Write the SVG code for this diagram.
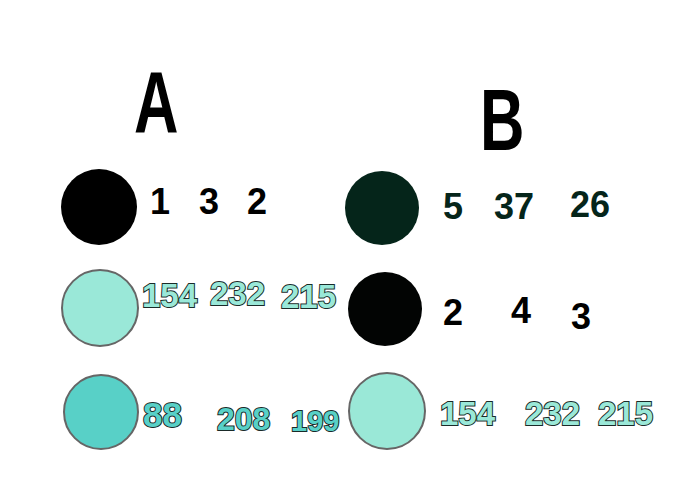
<svg xmlns="http://www.w3.org/2000/svg" width="700" height="500" viewBox="0 0 700 500">
<style>
.hd{font-family:"Liberation Sans",sans-serif;font-weight:bold;fill:#000}
.dk{font-family:"Liberation Sans",sans-serif;font-weight:bold;font-size:36px;fill:#000}
.dg{font-family:"Liberation Sans",sans-serif;font-weight:bold;font-size:36px;fill:#05251a}
.tl{font-family:"Liberation Sans",sans-serif;font-weight:bold;font-size:33px;fill:#9ae8d8;stroke:#1a2a28;stroke-width:2px;paint-order:stroke}
.tm{font-family:"Liberation Sans",sans-serif;font-weight:bold;font-size:35px;fill:#58d0c7;stroke:#1a2a28;stroke-width:2px;paint-order:stroke}
.ol{stroke:#666;stroke-width:2}
</style>
<rect width="700" height="500" fill="#fff"/>
<g id="headings">
<text class="hd" font-size="88" transform="translate(134,132) scale(0.7,1)">A</text>
<text class="hd" font-size="88" transform="translate(480,150) scale(0.7,1)">B</text>
</g>
<g id="a1">
<circle cx="99" cy="207" r="38" fill="#000"/>
<text class="dk" x="150" y="214">1</text>
<text class="dk" x="199" y="214">3</text>
<text class="dk" x="247" y="214">2</text>
</g>
<g id="a2">
<circle class="ol" cx="100" cy="308" r="38" fill="#9ae8d8"/>
<text class="tl" x="142" y="307">154</text>
<text class="tl" x="210" y="305">232</text>
<text class="tl" x="281" y="308">215</text>
</g>
<g id="a3">
<circle class="ol" cx="101" cy="412" r="37" fill="#58d0c7"/>
<text class="tm" x="143" y="427">88</text>
<text class="tm" x="217" y="430" style="font-size:32px">208</text>
<text class="tm" x="291" y="431" style="font-size:29px">199</text>
</g>
<g id="b1">
<circle cx="382" cy="208" r="37" fill="#05251a"/>
<text class="dg" x="443" y="219">5</text>
<text class="dg" x="494" y="219">37</text>
<text class="dg" x="570" y="217">26</text>
</g>
<g id="b2">
<circle cx="385" cy="309" r="37" fill="#020403"/>
<text class="dk" x="443" y="325">2</text>
<text class="dk" x="511" y="323">4</text>
<text class="dk" x="571" y="329">3</text>
</g>
<g id="b3">
<circle class="ol" cx="387" cy="411" r="38" fill="#9ae8d7"/>
<text class="tl" x="440" y="425">154</text>
<text class="tl" x="525" y="425">232</text>
<text class="tl" x="598" y="425">215</text>
</g>
</svg>
